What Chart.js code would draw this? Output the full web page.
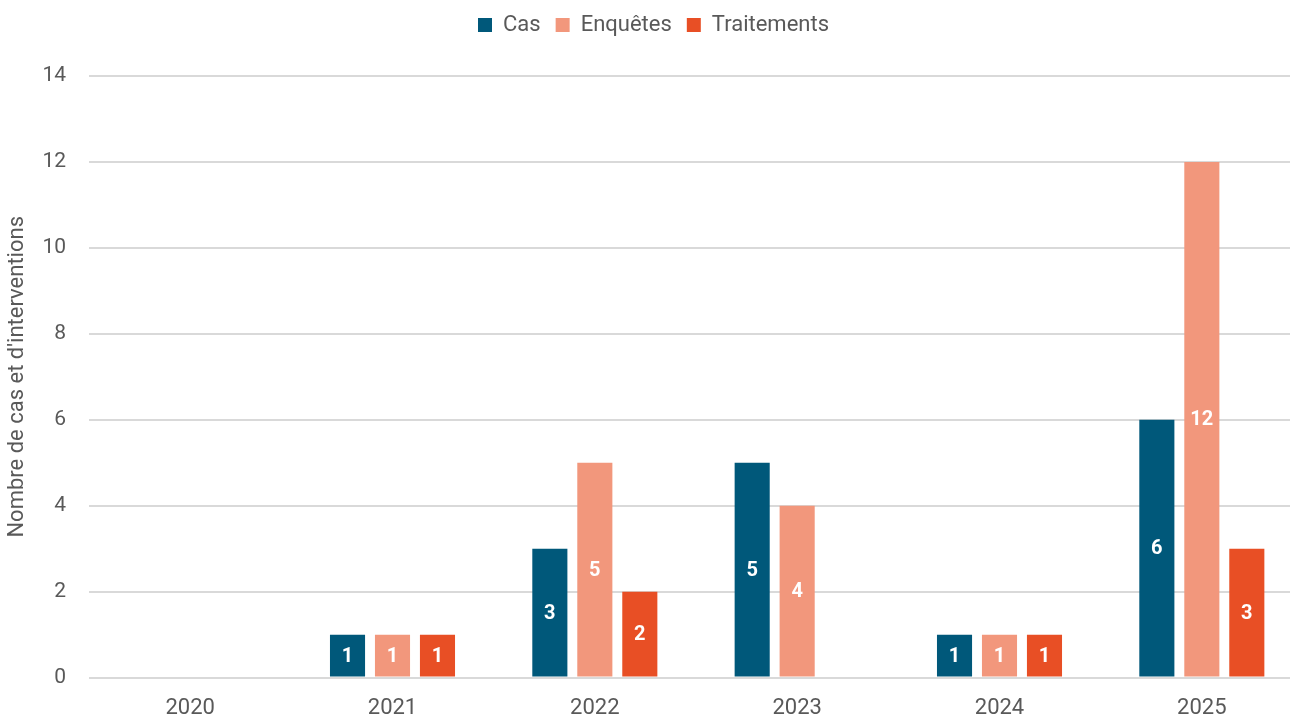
<!DOCTYPE html>
<html>
<head>
<meta charset="utf-8">
<script src="https://cdn.jsdelivr.net/npm/chart.js@4/dist/chart.umd.min.js"></script>
<style>
  html, body { margin: 0; padding: 0; background: #fff; overflow: hidden; }
  #wrap { width: 1303px; height: 732px; }
</style>
</head>
<body>
<div id="wrap"><canvas id="myChart"></canvas></div>
<script>
'use strict';

var annees = ['2020', '2021', '2022', '2023', '2024', '2025'];
var cas = [0, 1, 3, 5, 1, 6];
var enquetes = [0, 1, 5, 4, 1, 12];
var traitements = [0, 1, 2, 0, 1, 3];

var labelsDansBarres = {
  id: 'labelsDansBarres',
  afterDatasetsDraw: function(chart) {
    var ctx = chart.ctx;
    ctx.save();
    ctx.fillStyle = '#ffffff';
    ctx.font = 'bold 20px Roboto, "Liberation Sans", sans-serif';
    ctx.textAlign = 'center';
    ctx.textBaseline = 'middle';
    chart.data.datasets.forEach(function(ds, i) {
      var meta = chart.getDatasetMeta(i);
      meta.data.forEach(function(bar, j) {
        var v = ds.data[j];
        if (!v) return;
        ctx.fillText(String(v), bar.x, (bar.y + bar.base) / 2 + 1);
      });
    });
    ctx.restore();
  }
};

// un peu d'espace sous la légende
var margeLegende = {
  id: 'margeLegende',
  beforeInit: function(chart) {
    var fitOrig = chart.legend.fit;
    chart.legend.fit = function() {
      fitOrig.bind(chart.legend)();
      this.height += 30;
    };
  }
};

Chart.defaults.font.family = 'Roboto, "Liberation Sans", sans-serif';
Chart.defaults.color = '#595959';

var ctx = document.getElementById('myChart');

new Chart(ctx, {
  type: 'bar',
  data: {
    labels: annees,
    datasets: [
      { label: 'Cas', data: cas, backgroundColor: '#00587A' },
      { label: 'Enquêtes', data: enquetes, backgroundColor: '#F2977C' },
      { label: 'Traitements', data: traitements, backgroundColor: '#E84F25' }
    ]
  },
  options: {
    responsive: true,
    maintainAspectRatio: false,
    animation: false,
    datasets: {
      bar: { categoryPercentage: 0.667, barPercentage: 0.78 }
    },
    layout: { padding: { left: 4, right: 0, top: -1, bottom: 0 } },
    plugins: {
      legend: {
        position: 'top',
        labels: {
          boxWidth: 14,
          boxHeight: 14,
          padding: 15,
          font: { size: 22 },
          color: '#595959'
        }
      },
      tooltip: { enabled: false }
    },
    scales: {
      x: {
        grid: { display: false },
        border: { display: false },
        ticks: { font: { size: 22 }, color: '#595959', padding: 10 }
      },
      y: {
        min: 0,
        max: 14,
        afterFit: function(scale) { scale.width = 85; },
        ticks: { stepSize: 2, font: { size: 21 }, color: '#595959', padding: 23 },
        grid: { color: '#D9D9D9', lineWidth: 2, drawTicks: false },
        border: { display: false },
        title: {
          display: true,
          text: "Nombre de cas et d'interventions",
          font: { size: 22 },
          color: '#595959',
          padding: { top: 0, bottom: 0 }
        }
      }
    }
  },
  plugins: [labelsDansBarres, margeLegende]
});
</script>
</body>
</html>
